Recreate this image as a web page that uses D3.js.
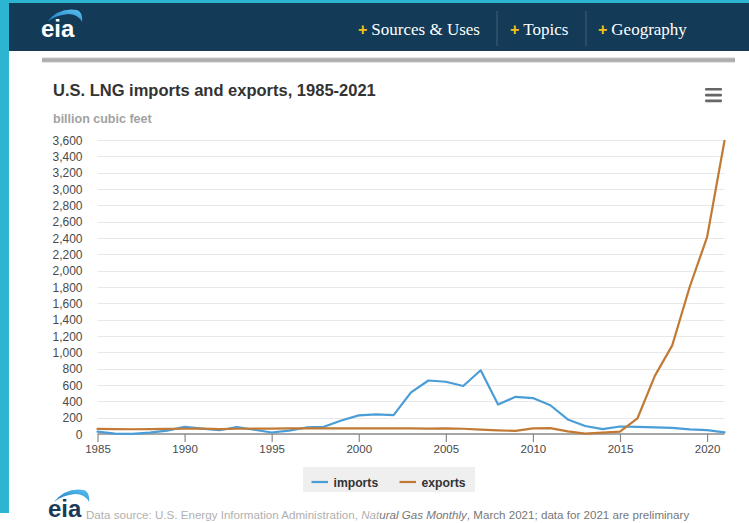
<!DOCTYPE html>
<html><head><meta charset="utf-8">
<script src="https://cdn.jsdelivr.net/npm/d3@7"></script>
<style>html,body{margin:0;padding:0;background:#fff;overflow:hidden} svg{display:block}</style>
</head><body>
<svg id="c" width="749" height="523"></svg>
<script>
// ---- data ----
const years = [1985,1986,1987,1988,1989,1990,1991,1992,1993,1994,1995,1996,1997,1998,1999,2000,2001,2002,2003,2004,2005,2006,2007,2008,2009,2010,2011,2012,2013,2014,2015,2016,2017,2018,2019,2020,2021];
const imports = [30,4,2,17,42,88,66,46,84,52,18,42,80,88,165,228,240,232,510,655,640,588,780,360,455,440,352,178,98,60,92,88,80,76,56,48,20];
const exports = [62,60,58,60,62,64,66,60,64,66,66,68,68,68,68,68,68,68,68,66,68,64,54,44,38,68,72,32,4,16,28,190,712,1085,1800,2410,3590];
const seriesNames = ["imports","exports"];
const yTicks = [0,200,400,600,800,1000,1200,1400,1600,1800,2000,2200,2400,2600,2800,3000,3200,3400,3600];
const xTicks = [1985,1990,1995,2000,2005,2010,2015,2020];
const navItems = ["Sources & Uses","Topics","Geography"];
const titleText = "U.S. LNG imports and exports, 1985-2021";
const unitText = "billion cubic feet";

// ---- drawing ----
const svg = d3.select("#c");
const SANS = "'Liberation Sans', Arial, Helvetica, sans-serif";
const SERIF = "'Liberation Serif', 'Times New Roman', serif";

// page frame
svg.append("rect").attr("x",0).attr("y",0).attr("width",749).attr("height",523).attr("fill","#ffffff");
svg.append("rect").attr("x",0).attr("y",0).attr("width",749).attr("height",3).attr("fill","#2bb5d1");
svg.append("rect").attr("x",0).attr("y",0).attr("width",9).attr("height",513).attr("fill","#2bb5d1");
svg.append("rect").attr("x",9).attr("y",3).attr("width",740).attr("height",48).attr("fill","#133a56");

// gradients
const defs = svg.append("defs");
const g1 = defs.append("linearGradient").attr("id","sw").attr("x1","0").attr("y1","1").attr("x2","1").attr("y2","0");
g1.append("stop").attr("offset","0").attr("stop-color","#1c7cc4");
g1.append("stop").attr("offset","1").attr("stop-color","#5cc0ef");
const g2 = defs.append("linearGradient").attr("id","bar").attr("x1","0").attr("y1","0").attr("x2","0").attr("y2","1");
g2.append("stop").attr("offset","0").attr("stop-color","#c8c8c8");
g2.append("stop").attr("offset","0.5").attr("stop-color","#a6a6a6");
g2.append("stop").attr("offset","1").attr("stop-color","#c4c4c4");

function logo(x, y, color) {
  const g = svg.append("g").attr("transform",`translate(${x},${y})`);
  g.append("path")
    .attr("d","M6,-15 Q18,-30 36,-27 Q42,-25 41,-15 Q37,-23 27,-23 Q15,-22 6,-15 Z")
    .attr("fill","url(#sw)");
  g.append("text").attr("x",0).attr("y",0).attr("font-family",SANS).attr("font-weight","bold")
    .attr("font-size",24).attr("fill",color).text("eia");
}
logo(41, 37, "#ffffff");

// nav
const navX = [358, 510, 598];
const nav = svg.append("g");
navItems.forEach((t,i)=>{
  const tx = nav.append("text").attr("x",navX[i]).attr("y",35).attr("font-family",SERIF).attr("font-size",17).attr("fill","#ffffff");
  tx.append("tspan").attr("fill","#f3c21b").attr("font-weight","bold").attr("font-family",SANS).attr("font-size",16).text("+");
  tx.append("tspan").attr("dx",4).text(t);
});
[497, 586].forEach(x=>{
  svg.append("line").attr("x1",x).attr("x2",x).attr("y1",11).attr("y2",46).attr("stroke","#3e607c").attr("stroke-width",1);
});

// gray bar
svg.append("rect").attr("x",42).attr("y",57.5).attr("width",693).attr("height",5).attr("fill","url(#bar)");

// hamburger
[88,93.8,99.6].forEach(y=>{
  svg.append("rect").attr("x",705).attr("y",y).attr("width",17).attr("height",2.6).attr("rx",1.2).attr("fill","#666");
});

// title
svg.append("text").attr("x",53).attr("y",96).attr("font-family",SANS).attr("font-weight","bold")
  .attr("font-size",16.5).attr("fill","#333").text(titleText);
svg.append("text").attr("x",53).attr("y",123).attr("font-family",SANS).attr("font-weight","bold")
  .attr("font-size",12.5).attr("fill","#a2a2a2").text(unitText);

// scales
const x = d3.scaleLinear().domain([1985, 2021]).range([97.5, 724.5]);
const y = d3.scaleLinear().domain([0, 3600]).range([434, 140]);

// grid
const grid = svg.append("g");
yTicks.filter(v=>v>0).forEach(v=>{
  grid.append("line").attr("x1",97.5).attr("x2",724.5).attr("y1",Math.round(y(v))+0.5).attr("y2",Math.round(y(v))+0.5)
    .attr("stroke","#e8e8e8").attr("stroke-width",1.2);
});

// y axis labels
const yAxis = d3.axisLeft(y).tickValues(yTicks).tickSize(0).tickPadding(0).tickFormat(d3.format(","));
const ya = svg.append("g").attr("transform","translate(82.5,0)").call(yAxis);
ya.select(".domain").remove();
ya.selectAll("text").attr("font-family",SANS).attr("font-size",12).attr("fill","#4a4a4a").attr("dy","0.35em");

// x axis
const xAxis = d3.axisBottom(x).tickValues(xTicks).tickSize(8).tickPadding(3).tickFormat(d3.format("d"));
const xa = svg.append("g").attr("transform","translate(0,434)").call(xAxis);
xa.select(".domain").attr("stroke","#8a8a8a").attr("stroke-width",1.5).attr("d","M97.5,0H724.5");
xa.selectAll(".tick line").attr("stroke","#8a8a8a").attr("stroke-width",1.2);
xa.selectAll("text").attr("font-family",SANS).attr("font-size",11.5).attr("fill","#4a4a4a");

// lines
const colors = {imports:"#4a9dd6", exports:"#c17a35"};
const seriesData = {imports, exports};
const line = d3.line().x((d,i)=>x(years[i])).y(d=>y(d));
seriesNames.forEach(name=>{
  svg.append("path").datum(seriesData[name]).attr("d",line).attr("fill","none")
    .attr("stroke",colors[name]).attr("stroke-width",2.2).attr("stroke-linejoin","round").attr("stroke-linecap","round");
});

// legend
svg.append("rect").attr("x",303).attr("y",467).attr("width",172).attr("height",25).attr("fill","#efefef");
const legX = [311.5, 399.5];
seriesNames.forEach((n,i)=>{
  svg.append("line").attr("x1",legX[i]).attr("x2",legX[i]+16.5).attr("y1",482).attr("y2",482)
    .attr("stroke",colors[n]).attr("stroke-width",2.2);
  svg.append("text").attr("x",legX[i]+22).attr("y",486.5).attr("font-family",SANS).attr("font-weight","bold")
    .attr("font-size",12.2).attr("fill","#333").text(n);
});

// footer
logo(48, 517, "#1b3a58");
const ft = svg.append("text").attr("x",86).attr("y",519).attr("font-family",SANS).attr("font-size",11.6).attr("fill","#777");
ft.append("tspan").attr("fill","#b0b0b0").text("Data source: U.S. Energy Information Administration, ");
ft.append("tspan").attr("fill","#b0b0b0").attr("font-style","italic").text("Nat");
ft.append("tspan").attr("font-style","italic").text("ural Gas Monthly");
ft.append("tspan").text(", March 2021; data for 2021 are preliminary");
</script>
</body></html>
